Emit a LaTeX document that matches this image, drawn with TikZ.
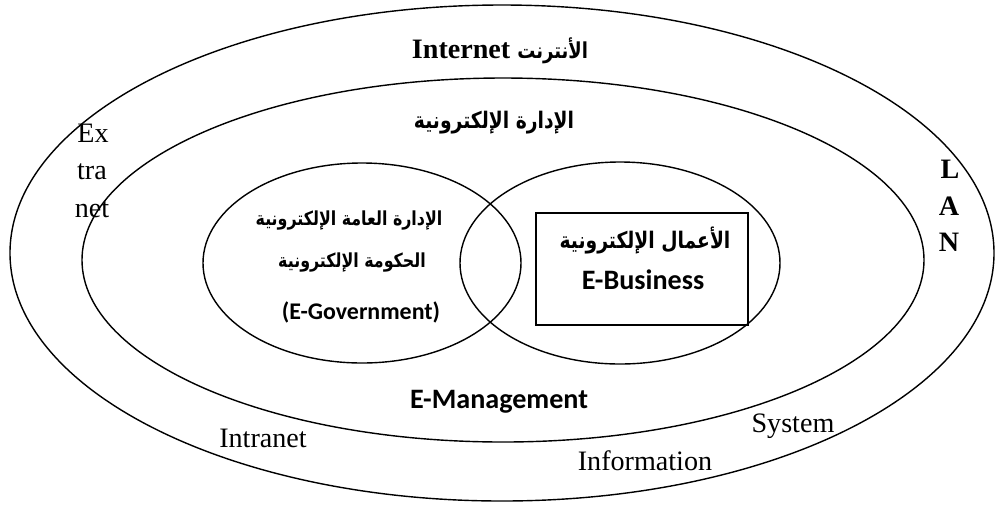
\documentclass[tikz,border=0pt]{standalone}
\usepackage{fontspec}
\setmainfont{Liberation Serif}
\newfontfamily\calib{Carlito}
\newfontfamily\arabicfont[Script=Arabic,FakeStretch=0.82]{DejaVu Sans}
\TeXXeTstate=1

\tikzset{
  ring/.style={line width=0.8pt},
  serifword/.style={font=\fontsize{16}{18}\selectfont},
  seriflet/.style={font=\fontsize{16}{18}\selectfont\bfseries},
  arword/.style={font=\fontsize{13}{15}\selectfont\arabicfont\bfseries},
  arsmall/.style={font=\fontsize{11}{13}\selectfont\arabicfont\bfseries},
  latword/.style={font=\fontsize{16}{18}\selectfont\calib\bfseries}
}

\begin{document}
\begin{tikzpicture}
    \useasboundingbox (0,0) rectangle (19.92,-10.12);
    % outer and inner rings
    \draw[ring] (10.04,-5.06) ellipse (9.84 and 4.96);
    \draw[ring] (10.06,-5.20) ellipse (8.42 and 3.64);
    % the two circles and the box
    \draw[ring] (7.24,-5.26) ellipse (3.18 and 2.00);
    \draw[ring] (12.40,-5.26) ellipse (3.20 and 2.02);
    \draw[line width=0.6pt] (10.72,-4.26) rectangle (14.96,-6.50);
    % labels
    \draw (10.00,-1.02) node[font=\fontsize{16}{18}\selectfont\bfseries] (internet) {Internet {\arabicfont\bfseries\fontsize{12.5}{14}\selectfont\beginR الأنترنت\endR}};
    \draw (9.88,-2.46) node[arword] (edara) {\beginR الإدارة الإلكترونية\endR};
    \draw (1.86,-2.66) node[serifword] (ex) {Ex};
    \draw (1.84,-3.44) node[serifword] (tra) {tra};
    \draw (1.84,-4.20) node[serifword] (net) {net};
    \draw (19.00,-3.38) node[seriflet] (lanl) {L};
    \draw (18.98,-4.12) node[seriflet] (lana) {A};
    \draw (18.98,-4.84) node[seriflet] (lann) {N};
    \draw (6.98,-4.42) node[arsmall] (edaraamma) {\beginR الإدارة العامة الإلكترونية\endR};
    \draw (7.04,-5.26) node[arsmall] (hukuma) {\beginR الحكومة الإلكترونية\endR};
    \draw (7.22,-6.24) node[latword,font=\fontsize{13.6}{15}\selectfont\calib\bfseries] (egov) {(E-Government)};
    \draw (12.90,-4.80) node[arword] (aamal) {\beginR الأعمال الإلكترونية\endR};
    \draw (12.86,-5.60) node[latword] (ebus) {E-Business};
    \draw (9.98,-8.04) node[latword] (eman) {E-Management};
    \draw (5.26,-8.76) node[serifword] (intranet) {Intranet};
    \draw (15.86,-8.52) node[serifword] (system) {System};
    \draw (12.90,-9.22) node[serifword] (info) {Information};
\end{tikzpicture}
\end{document}
